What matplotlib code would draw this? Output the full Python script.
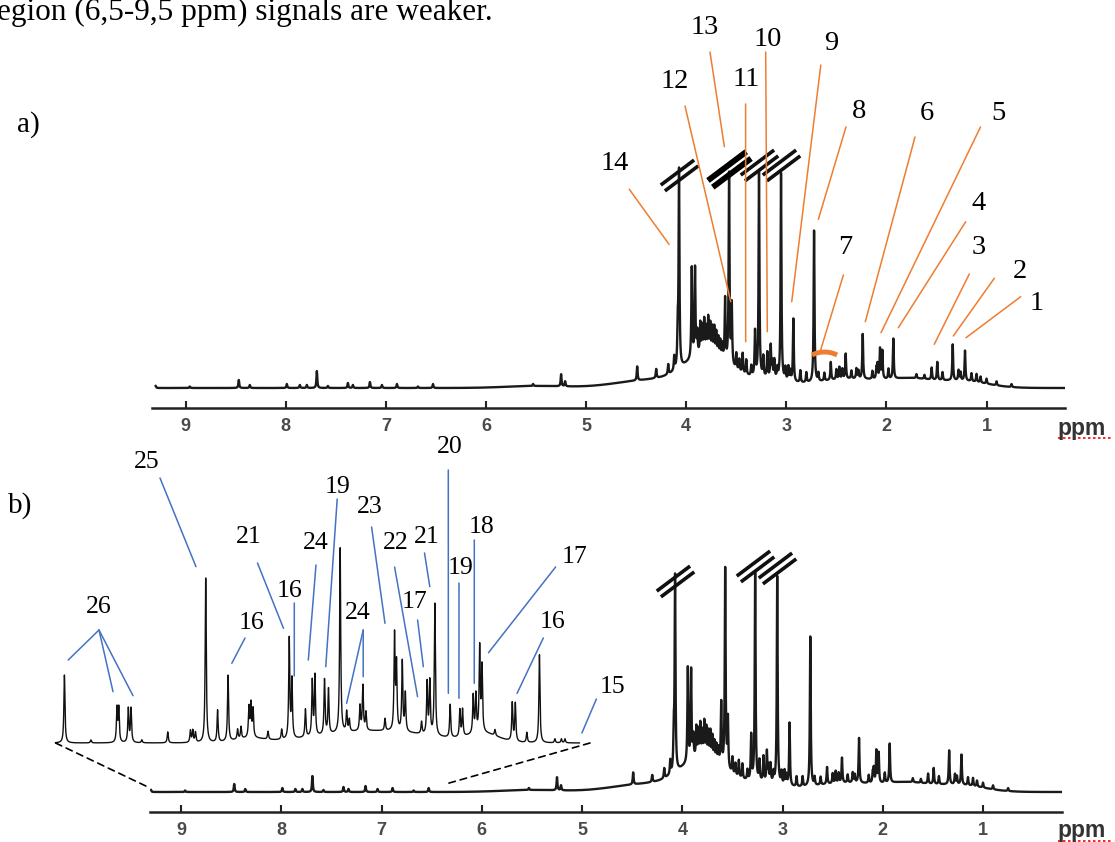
import numpy as np
import matplotlib.pyplot as plt
from matplotlib.path import Path
from matplotlib.patches import ConnectionPatch

W, H = 1115, 842

# ---------------- data: peak lists (ppm, height above baseline) ----------------
# spectrum a)
a_ppm = [9.30, 8.96, 8.47, 8.36, 7.99, 7.86, 7.79, 7.69, 7.58, 7.38, 7.33, 7.16, 7.04,
         6.89, 6.68, 6.53, 5.53, 5.25, 5.21,
         4.49, 4.30, 4.18, 4.12, 4.085, 4.072, 3.945, 3.912, 3.89, 3.86, 3.84, 3.82, 3.80,
         3.78, 3.76, 3.74, 3.72, 3.70, 3.68, 3.66, 3.64,
         3.612, 3.572, 3.545, 3.50, 3.47, 3.436, 3.40, 3.35, 3.313, 3.273, 3.23, 3.19,
         3.156, 3.14, 3.12, 3.09, 3.053, 3.01, 2.98, 2.96,
         2.930, 2.86, 2.80, 2.723, 2.68, 2.62, 2.556, 2.50, 2.47, 2.44, 2.407, 2.35, 2.30,
         2.28, 2.237, 2.14, 2.10, 2.09, 2.064, 2.041, 1.98, 1.931, 1.70, 1.62, 1.548,
         1.492, 1.44, 1.338, 1.28, 1.26, 1.215, 1.15, 1.10, 1.06, 1.00, 0.90, 0.75]
a_height = [2, 1.5, 8, 3, 4, 3, 3, 17, 2, 5, 3, 6, 3,
            4, 1.5, 4, 2, 12, 5,
            14, 9, 10, 14, 35, 197, 91, 88, 22, 30, 26, 32, 24,
            34, 28, 25, 26, 22, 18, 16, 14,
            62, 191, 60, 16, 12, 20, 15, 10, 45, 207, 20, 25,
            32, 15, 18, 10, 207, 12, 14, 10,
            63, 12, 10, 152, 8, 8, 18, 10, 12, 10, 25, 8, 10,
            8, 45, 8, 10, 14, 30, 28, 10, 40, 4, 4, 12,
            18, 8, 36, 10, 8, 30, 8, 8, 6, 5, 4, 3]
a_broad_ppm = [5.5, 4.35, 3.78, 3.2, 2.35, 1.75, 1.25]
a_broad_height = [2, 8, 32, 8, 9, 7, 7]
a_broad_sigma = [0.3, 0.35, 0.22, 0.2, 0.35, 0.2, 0.25]
a_break = [4.072, 3.273, 3.053]
a_break_thick = [3.572]

# spectrum b)
b_ppm = list(a_ppm)
b_height = [2, 1.5, 8, 3, 4, 3, 3, 16, 2, 5, 3, 6, 3,
            4, 1.5, 4, 2, 13, 5,
            12, 7, 10, 14, 35, 195, 95, 90, 22, 30, 26, 32, 24,
            34, 28, 25, 26, 22, 18, 16, 14,
            62, 200, 50, 16, 12, 17, 15, 10, 45, 210, 20, 25,
            30, 15, 18, 10, 208, 12, 14, 10,
            63, 10, 10, 150, 8, 8, 17, 10, 12, 10, 25, 8, 10,
            8, 45, 8, 10, 14, 32, 30, 10, 39, 4, 4, 10,
            16, 8, 34, 10, 8, 30, 8, 8, 6, 5, 4, 3]
b_broad_ppm = [5.5, 4.35, 3.78, 3.2, 2.35, 1.75, 1.25]
b_broad_height = [2, 8, 32, 8, 9, 7, 7]
b_broad_sigma = [0.3, 0.35, 0.22, 0.2, 0.35, 0.2, 0.25]
b_break = [4.072, 3.273, 3.053]

# inset of b) (aromatic region, expanded)
i_ppm = [9.281, 9.134, 8.989, 8.979, 8.926, 8.911, 8.851, 8.707, 8.581, 8.568, 8.553,
         8.496, 8.430, 8.372, 8.319, 8.300, 8.256, 8.245, 8.233, 8.150, 8.074, 8.032,
         8.017, 7.942, 7.904, 7.889, 7.836, 7.814, 7.749, 7.713, 7.698, 7.639, 7.623,
         7.606, 7.500, 7.447, 7.436, 7.404, 7.387, 7.297, 7.266, 7.251, 7.223, 7.138,
         7.084, 7.069, 7.010, 6.995, 6.974, 6.961, 6.889, 6.793, 6.776, 6.712, 6.642,
         6.556, 6.520, 6.500]
i_height = [68, 3, 34, 34, 34, 34, 3, 11, 12, 12, 10,
            165, 32, 66, 10, 12, 30, 33, 28, 8, 10, 100,
            58, 28, 55, 60, 55, 45, 185, 20, 12, 25, 45,
            18, 12, 95, 65, 70, 38, 12, 52, 53, 132, 33,
            27, 27, 38, 38, 85, 65, 6, 38, 38, 10, 88,
            4, 4, 4]
i_broad_ppm = [8.25, 7.55, 6.95]
i_broad_height = [4, 12, 8]
i_broad_sigma = [0.08, 0.3, 0.08]

ticks = [1, 2, 3, 4, 5, 6, 7, 8, 9]

# annotations a) (orange)
a_labels = ['14', '13', '12', '11', '10', '9', '8', '7', '6', '5', '4', '3', '2', '1']
a_text_xy = [(615, 163), (705, 28), (675, 82), (746.6, 80), (767.8, 39), (830.7, 43),
             (858.6, 112), (845, 248), (926.8, 113), (998, 113), (979, 204), (979, 248),
             (1020, 272), (1037, 304)]
a_line_start = [(629.3, 189.3), (710, 52), (685, 106), (745.6, 104), (765.7, 52),
                (820.8, 65), (846, 127), (843.4, 275), (915, 137), (980.5, 127),
                (965.7, 221.7), (969.3, 274), (994.3, 278.3), (1020.7, 296.7)]
a_line_end = [(4.172, 143.7), (3.619, 241.3), (3.555, 86.3), (3.406, 46.3), (3.190, 56.3),
              (2.946, 86.3), (2.680, 168.7), (2.663, 36), (2.211, 66.3), (2.054, 55.3),
              (1.881, 60.3), (1.522, 43.7), (1.332, 52), (1.205, 50.3)]

# annotations inset b) (blue)
i_labels = ['26', '25', '16', '21', '16', '24', '19', '23', '22', '24', '21', '17',
            '20', '19', '18', '17', '16', '15']
i_text_xy = [(99, 607), (147, 462), (252, 623), (249, 537), (290, 591), (316, 543),
             (338, 487), (370, 507), (396, 543), (358, 613), (427, 537), (415, 602),
             (450, 447), (461, 568), (482, 527), (575, 557), (553, 622), (612, 687)]
i_line_start = [[(99, 630)] * 3, [(160, 478)], [(245, 638)], [(257.5, 563)], [(294.3, 603)],
                [(316, 565)], [(337.2, 499)], [(371.6, 527)], [(394.6, 567)],
                [(363.2, 630)] * 2, [(424.5, 553)], [(417.6, 620)], [(448.3, 470)],
                [(459, 583)], [(474.3, 540)], [(555.6, 567)], [(543.3, 638)], [(596.4, 699)]]
i_line_end = [[(9.26, 83), (9.011, 51.3), (8.90, 47.3)], [(8.55, 176.3)], [(8.351, 79.7)],
              [(8.064, 114.7)], [(8.004, 67)], [(7.926, 83)], [(7.829, 76.3)], [(7.50, 119.7)],
              [(7.319, 46.3)], [(7.713, 39.7), (7.621, 66.3)], [(7.251, 156.3)],
              [(7.287, 76.3)], [(7.148, 49.7)], [(7.089, 44.7)], [(7.004, 59.7)],
              [(6.925, 90.3)], [(6.766, 49.7)], [(6.406, 10)]]

ORANGE = '#ED7D31'
BLUE = '#4472C4'
SERIF = 'Liberation Serif'


def spectrum(x, ppm, height, bppm, bheight, bsigma, gamma=0.005):
    y = np.zeros_like(x)
    for p, h in zip(ppm, height):
        y += h * gamma ** 2 / ((x - p) ** 2 + gamma ** 2)
    for p, h, s in zip(bppm, bheight, bsigma):
        y += h * np.exp(-0.5 * ((x - p) / s) ** 2)
    return y


def px_axes(x0, y0, x1, y1, **kw):
    return fig.add_axes([x0 / W, 1 - y1 / H, (x1 - x0) / W, (y1 - y0) / H], **kw)


def style_axis(ax):
    for s in ['top', 'left', 'right']:
        ax.spines[s].set_visible(False)
    ax.spines['bottom'].set_linewidth(1.8)
    ax.spines['bottom'].set_color('#222222')
    ax.set_yticks([])
    ax.set_xticks(ticks)
    ax.tick_params(axis='x', direction='in', length=5, width=1.5, color='#222222',
                   pad=7, labelsize=13, labelcolor='#4a4a4a')
    for lbl in ax.get_xticklabels():
        lbl.set_fontweight('bold')
        lbl.set_family('Liberation Sans')
    ax.patch.set_alpha(0)


# break marker: two parallel slanted strokes
brk_path = Path([(-0.9, -0.46), (0.7, 0.74), (-0.7, -0.74), (0.9, 0.46)],
                [Path.MOVETO, Path.LINETO, Path.MOVETO, Path.LINETO])

fig = plt.figure(figsize=(W / 100, H / 100), dpi=100)

# ---------------- panel a ----------------
ax_a = px_axes(152, 0, 1065, 408)
xa = np.linspace(9.30, 0.22, 12000)
ax_a.plot(xa, spectrum(xa, a_ppm, a_height, a_broad_ppm, a_broad_height, a_broad_sigma),
          color='#1a1a1a', lw=1.7)
ax_a.set_xlim(9.337, 0.216)
ax_a.set_ylim(-20, 388)
style_axis(ax_a)
a_top = [a_height[a_ppm.index(p)] for p in a_break]
ax_a.plot(a_break, np.array(a_top) + 16, ls='none', marker=brk_path, ms=27,
          mew=2.6, mec='#111111', zorder=5)
a_top_thick = [a_height[a_ppm.index(p)] for p in a_break_thick]
ax_a.plot(a_break_thick, np.array(a_top_thick) + 28, ls='none', marker=brk_path, ms=31,
          mew=4.2, mec='#000000', zorder=5)

# shallow orange bracket marking signal 7
t = np.radians(np.linspace(63, 117, 30))
ax_a.plot(2.618 + 0.275 * np.cos(t), 8.5 + 27.5 * np.sin(t), color=ORANGE, lw=3.5,
          solid_capstyle='butt')

# ---------------- panel b ----------------
ax_b = px_axes(150, 430, 1062, 812)
xb = np.linspace(9.30, 0.22, 12000)
ax_b.plot(xb, spectrum(xb, b_ppm, b_height, b_broad_ppm, b_broad_height, b_broad_sigma),
          color='#1a1a1a', lw=1.7)
ax_b.set_xlim(9.31, 0.212)
ax_b.set_ylim(-20, 362)
style_axis(ax_b)
b_top = [b_height[b_ppm.index(p)] for p in b_break]
ax_b.plot(b_break, np.array(b_top) + 16, ls='none', marker=brk_path, ms=27,
          mew=2.6, mec='#111111', zorder=5)

# inset
ax_i = px_axes(52, 430, 590, 748)
xi = np.linspace(9.33, 6.42, 8000)
ax_i.plot(xi, spectrum(xi, i_ppm, i_height, i_broad_ppm, i_broad_height, i_broad_sigma,
                       gamma=0.0035), color='#111111', lw=1.0)
ax_i.set_xlim(9.35, 6.361)
ax_i.set_ylim(-5, 313)
ax_i.axis('off')

for pi, pb in [((9.33, 0), (9.31, 4)), ((6.361, 0), (6.36, 8))]:
    fig.add_artist(ConnectionPatch(pi, pb, coordsA=ax_i.transData, coordsB=ax_b.transData,
                                   color='black', lw=1.2, ls=(0, (4, 3))))

# ---------------- overlay: texts and leader lines ----------------
ov = fig.add_axes([0, 0, 1, 1], zorder=10)
ov.set_xlim(0, W)
ov.set_ylim(H, 0)
ov.axis('off')
ov.patch.set_alpha(0)

ov.text(-3, 20, 'egion (6,5-9,5 ppm) signals are weaker.', fontsize=22.5, family=SERIF,
        va='baseline', ha='left')
ov.text(17, 132, 'a)', fontsize=21, family=SERIF, va='baseline')
ov.text(8, 513, 'b)', fontsize=21, family=SERIF, va='baseline')

for y in [428, 831]:
    ov.text(1057, y, 'ppm', fontsize=16.5, fontweight='bold', family='Liberation Sans',
            color='#333333', va='center', ha='left')
    ov.plot([1058, 1112], [y + 10, y + 10], color='red', lw=1.2, ls=(0, (1.5, 1.5)))

for lab, txy, st, en in zip(a_labels, a_text_xy, a_line_start, a_line_end):
    ov.text(txy[0], txy[1], lab, fontsize=20.5, family=SERIF, ha='center', va='center')
    fig.add_artist(ConnectionPatch(st, en, coordsA=ov.transData, coordsB=ax_a.transData,
                                   color=ORANGE, lw=1.1))

for lab, txy, sts, ens in zip(i_labels, i_text_xy, i_line_start, i_line_end):
    ov.text(txy[0], txy[1], lab, fontsize=18.5, family=SERIF, ha='center', va='center')
    for st, en in zip(sts, ens):
        fig.add_artist(ConnectionPatch(st, en, coordsA=ov.transData, coordsB=ax_i.transData,
                                       color=BLUE, lw=1.1))

fig.savefig('out.png', dpi=100)
